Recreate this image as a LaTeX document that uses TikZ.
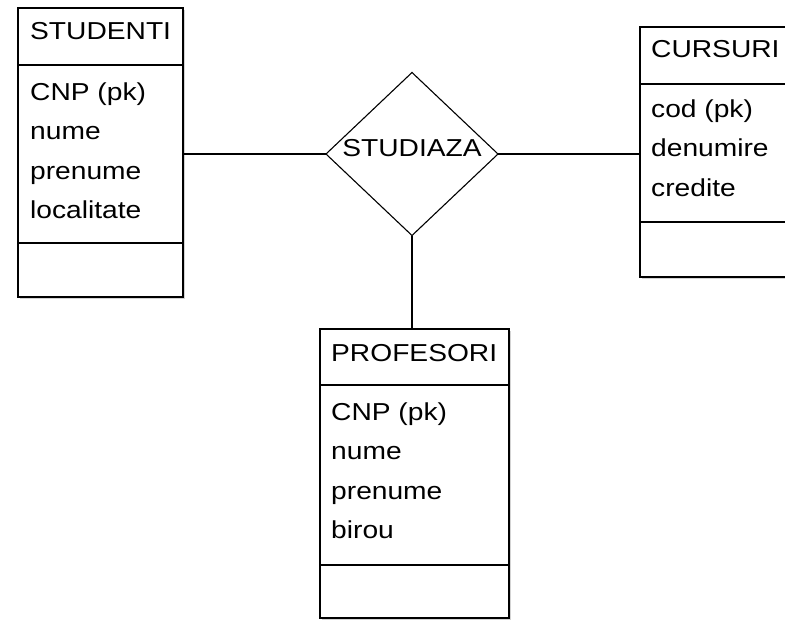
\documentclass[tikz,border=0pt]{standalone}
\usepackage{fontspec}
\setmainfont[FakeStretch=1.15]{Liberation Sans}
\usetikzlibrary{positioning,shapes.geometric,shadows}

\begin{document}
\begin{tikzpicture}[x=1pt,y=-1pt,
  every node/.style={font=\fontsize{24.5}{29}\selectfont},
  compart/.style={draw,line width=1.4pt,fill=white,outer sep=0pt,inner sep=0pt,
    drop shadow={shadow xshift=2pt,shadow yshift=-2pt,fill=gray,opacity=0.35}},
  attr/.style={anchor=base west,inner sep=0pt},
  rel/.style={draw,diamond,aspect=1.055,line width=1.1pt,fill=white,inner sep=0pt,outer sep=0pt},
  link/.style={line width=1.2pt}]
\useasboundingbox (0,0) rectangle (785,619);
\clip (0,0) rectangle (785,619);

% entitatea STUDENTI
\node[compart,anchor=north west,minimum width=165,minimum height=57] (studenti-h) at (18,8) {};
\node[compart,below=0pt of studenti-h,minimum width=165,minimum height=178] (studenti-a) {};
\node[compart,below=0pt of studenti-a,minimum width=165,minimum height=54] (studenti-e) {};
\node[attr] (studenti-t) at ([shift={(12,31)}]studenti-h.north west) {STUDENTI};
\foreach \a [count=\i] in {{CNP (pk)},nume,prenume,localitate}
  \node[attr] (studenti-at\i) at ([shift={(12,{35+39.5*(\i-1)})}]studenti-a.north west) {\a};

% entitatea CURSURI
\node[compart,anchor=north west,minimum width=170,minimum height=57] (cursuri-h) at (640,27) {};
\node[compart,below=0pt of cursuri-h,minimum width=170,minimum height=138] (cursuri-a) {};
\node[compart,below=0pt of cursuri-a,minimum width=170,minimum height=55] (cursuri-e) {};
\node[attr] (cursuri-t) at ([shift={(11,30)}]cursuri-h.north west) {CURSURI};
\foreach \a [count=\i] in {{cod (pk)},denumire,credite}
  \node[attr] (cursuri-at\i) at ([shift={(11,{33+39.5*(\i-1)})}]cursuri-a.north west) {\a};

% entitatea PROFESORI
\node[compart,anchor=north west,minimum width=189,minimum height=56] (profesori-h) at (320,329) {};
\node[compart,below=0pt of profesori-h,minimum width=189,minimum height=180] (profesori-a) {};
\node[compart,below=0pt of profesori-a,minimum width=189,minimum height=53] (profesori-e) {};
\node[attr] (profesori-t) at ([shift={(11,32)}]profesori-h.north west) {PROFESORI};
\foreach \a [count=\i] in {{CNP (pk)},nume,prenume,birou}
  \node[attr] (profesori-at\i) at ([shift={(11,{35+39.5*(\i-1)})}]profesori-a.north west) {\a};

% relatia
\node[rel,minimum width=172,minimum height=163,text depth=12pt] (studiaza) at (412,154) {STUDIAZA};

\draw[link] (studenti-a.east) -- (studiaza.west);
\draw[link] (studiaza.east) -- (studiaza.east -| cursuri-a.west);
\draw[link] (studiaza.south) -- (studiaza.south |- profesori-h.north);

\end{tikzpicture}
\end{document}
